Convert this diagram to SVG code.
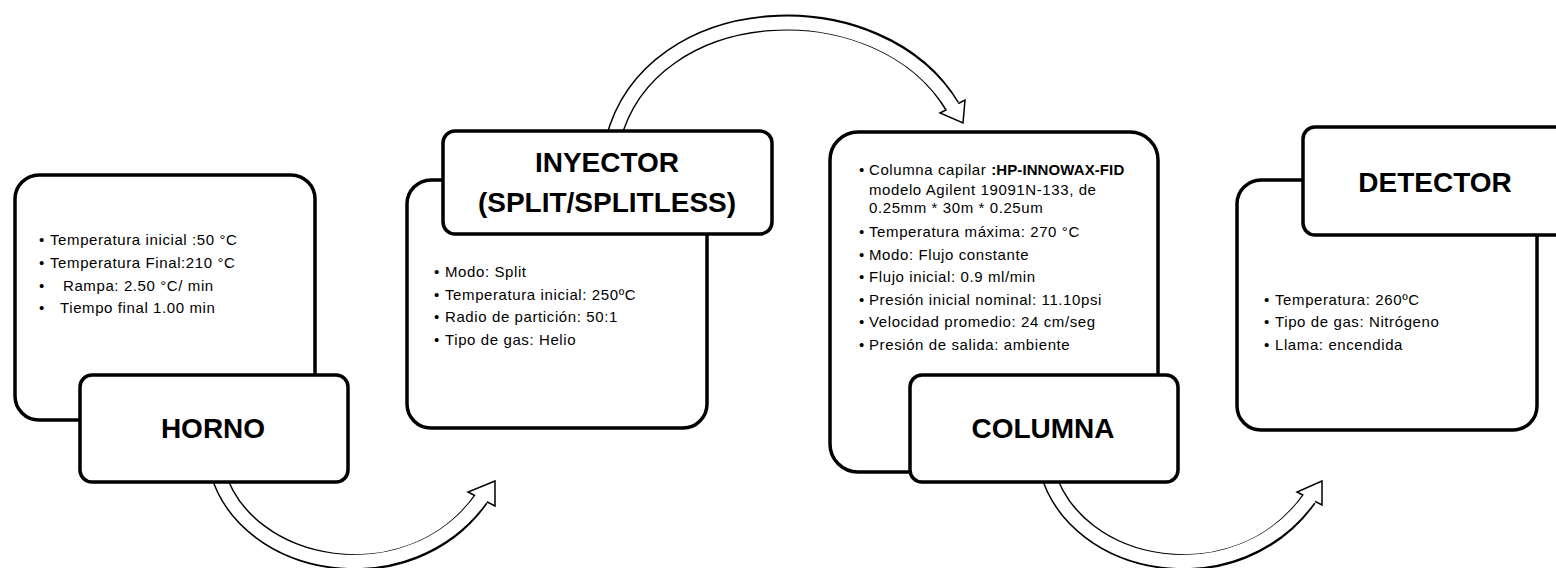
<svg xmlns="http://www.w3.org/2000/svg" width="1556" height="568" viewBox="0 0 1556 568">
  <style>
    .box { fill: #fff; stroke: #000; stroke-width: 3.5; }
    .label { font-family: "Liberation Sans", Arial, sans-serif; font-weight: bold; font-size: 28px; fill: #000; text-anchor: middle; }
    .item { font-family: "Liberation Sans", Arial, sans-serif; font-size: 15px; letter-spacing: 0.6px; fill: #000; }
    .shaft-out { fill: none; stroke: #000; stroke-width: 16; }
    .shaft-in { fill: none; stroke: #fff; stroke-width: 13; }
    .head { fill: #fff; stroke: #000; stroke-width: 1.5; stroke-linejoin: miter; }
  </style>

  <!-- curved block arrows between stages -->
  <g id="connectors">
    <g id="arrow-horno-inyector">
      <path class="shaft-out" d="M217,470 C245,572 410,600 481,499"/>
      <polygon class="head" points="495,481 468,492 495,506"/>
      <path class="shaft-in" d="M217,470 C245,572 410,600 483,496"/>
    </g>
    <g id="arrow-inyector-columna">
      <path class="shaft-out" d="M613,140 C650,-5 880,-15 952,106"/>
      <polygon class="head" points="963,123 965,100 940,113"/>
      <path class="shaft-in" d="M613,140 C650,-5 880,-15 954,109"/>
    </g>
    <g id="arrow-columna-detector">
      <path class="shaft-out" d="M1047,470 C1075,572 1238,600 1309,499"/>
      <polygon class="head" points="1322,481 1297,492 1322,505"/>
      <path class="shaft-in" d="M1047,470 C1075,572 1238,600 1311,496"/>
    </g>
  </g>

  <!-- oven -->
  <g id="horno">
    <rect class="box" x="15" y="175" width="300" height="245" rx="24"/>
    <rect class="box" x="80" y="375" width="268" height="107" rx="12"/>
    <text class="label" x="213" y="438">HORNO</text>
    <text class="item" x="39" y="245">•</text>
    <text class="item" x="50" y="245">Temperatura inicial :50 °C</text>
    <text class="item" x="39" y="268">•</text>
    <text class="item" x="50" y="268">Temperatura Final:210 °C</text>
    <text class="item" x="39" y="291">•</text>
    <text class="item" x="63" y="291">Rampa: 2.50 °C/ min</text>
    <text class="item" x="39" y="313">•</text>
    <text class="item" x="60" y="313">Tiempo final 1.00 min</text>
  </g>

  <!-- injector -->
  <g id="inyector">
    <rect class="box" x="407" y="180" width="300" height="248" rx="24"/>
    <rect class="box" x="443" y="131" width="329" height="103" rx="12"/>
    <text class="label" x="607" y="172">INYECTOR</text>
    <text class="label" x="607" y="212">(SPLIT/SPLITLESS)</text>
    <text class="item" x="434" y="277">•</text>
    <text class="item" x="445" y="277">Modo: Split</text>
    <text class="item" x="434" y="300">•</text>
    <text class="item" x="445" y="300">Temperatura inicial: 250ºC</text>
    <text class="item" x="434" y="322">•</text>
    <text class="item" x="445" y="322">Radio de partición: 50:1</text>
    <text class="item" x="434" y="345">•</text>
    <text class="item" x="445" y="345">Tipo de gas: Helio</text>
  </g>

  <!-- column -->
  <g id="columna">
    <rect class="box" x="830" y="132" width="328" height="340" rx="28"/>
    <rect class="box" x="910" y="375" width="268" height="107" rx="12"/>
    <text class="label" x="1043" y="438">COLUMNA</text>
    <text class="item" x="859" y="175">•</text>
    <text class="item" x="869" y="175">Columna capilar <tspan font-weight="bold" letter-spacing="0.1">:HP-INNOWAX-FID</tspan></text>
    <text class="item" x="869" y="195">modelo Agilent 19091N-133, de</text>
    <text class="item" x="869" y="213">0.25mm * 30m * 0.25um</text>
    <text class="item" x="859" y="237">•</text>
    <text class="item" x="869" y="237">Temperatura máxima: 270 °C</text>
    <text class="item" x="859" y="260">•</text>
    <text class="item" x="869" y="260">Modo: Flujo constante</text>
    <text class="item" x="859" y="282">•</text>
    <text class="item" x="869" y="282">Flujo inicial: 0.9 ml/min</text>
    <text class="item" x="859" y="305">•</text>
    <text class="item" x="869" y="305">Presión inicial nominal: 11.10psi</text>
    <text class="item" x="859" y="327">•</text>
    <text class="item" x="869" y="327">Velocidad promedio: 24 cm/seg</text>
    <text class="item" x="859" y="350">•</text>
    <text class="item" x="869" y="350">Presión de salida: ambiente</text>
  </g>

  <!-- detector -->
  <g id="detector">
    <rect class="box" x="1237" y="180" width="300" height="250" rx="24"/>
    <rect class="box" x="1303" y="127" width="280" height="108" rx="12"/>
    <text class="label" x="1435" y="192">DETECTOR</text>
    <text class="item" x="1264" y="305">•</text>
    <text class="item" x="1275" y="305">Temperatura: 260ºC</text>
    <text class="item" x="1264" y="327">•</text>
    <text class="item" x="1275" y="327">Tipo de gas: Nitrógeno</text>
    <text class="item" x="1264" y="350">•</text>
    <text class="item" x="1275" y="350">Llama: encendida</text>
  </g>
</svg>
